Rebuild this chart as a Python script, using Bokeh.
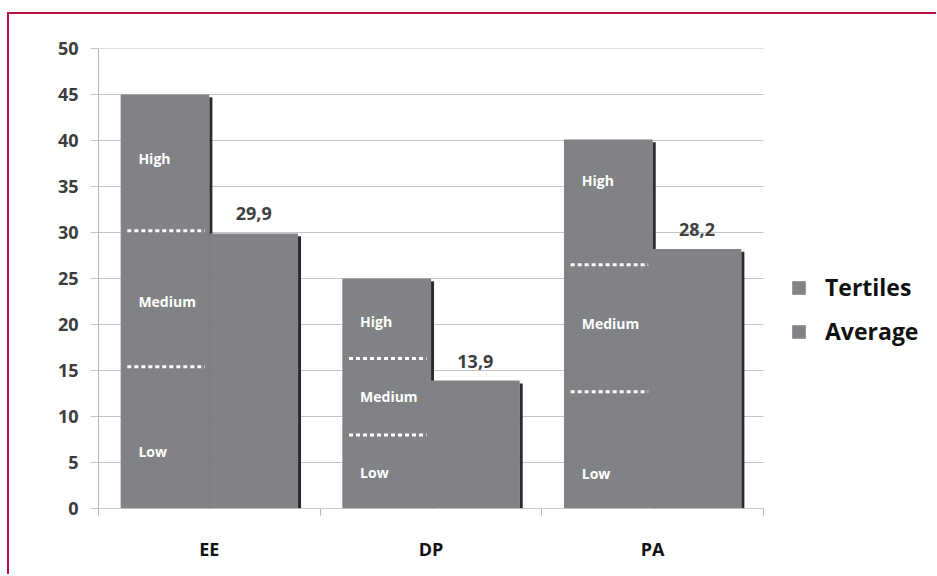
from bokeh.plotting import figure
from bokeh.models import FixedTicker, Range1d, Legend, LegendItem
from bokeh.core.properties import value
from bokeh.embed import file_html
from bokeh.resources import INLINE

# ---- data ----
categories = ["EE", "DP", "PA"]
tertile_max = [45.0, 25.0, 40.1]
average = [29.9, 13.9, 28.2]
cut_low = [15.4, 8.0, 12.7]
cut_high = [30.2, 16.3, 26.5]
tertile_names = ["Low", "Medium", "High"]
label_low_y = [6.2, 3.9, 3.8]
label_med_y = [22.5, 12.2, 20.1]
label_high_y = [38.0, 20.3, 35.7]
y_ticks = [0, 5, 10, 15, 20, 25, 30, 35, 40, 45, 50]

FONT = value("Open Sans")
BAR = "#818285"
SHADOW = "#2b2b2b"
GRID = "#c4c4c4"
AXIS = "#b5b5b5"
FRAME_RED = "#b8123e"

n = len(categories)
idx = list(range(n))
bw = 0.4
tx = [i + 0.3 for i in idx]
ax = [i + 0.7 for i in idx]

# layout (pixels)
plot_px = 665      # width of the category area
frame_px = 838     # frame extends right to host the legend
x_end = n * frame_px / plot_px

p = figure(frame_width=frame_px, frame_height=460, output_backend="svg", toolbar_location=None,
           x_range=Range1d(0, x_end), y_range=Range1d(0, 50),
           min_border_left=89, min_border_right=0, min_border_top=34, min_border_bottom=66)
p.styles = {"border-top": f"2px solid {FRAME_RED}", "border-left": f"2px solid {FRAME_RED}",
            "margin-left": "7px", "margin-top": "12px"}
p.outline_line_color = None
p.background_fill_color = "white"
p.xgrid.grid_line_color = None
p.ygrid.grid_line_color = None

# horizontal grid lines over the category area only
p.segment(x0=[0] * len(y_ticks), x1=[n] * len(y_ticks), y0=y_ticks, y1=y_ticks,
          line_color=GRID, line_width=1)

# tertile bars
r_t = p.vbar(x=tx, top=tertile_max, width=bw, fill_color=BAR, line_color=None)
p.segment(x0=[x + bw / 2 + 0.007 for x in tx], x1=[x + bw / 2 + 0.007 for x in tx],
          y0=[t - 0.3 for t in tertile_max], y1=[0] * n, line_color=SHADOW, line_width=3)
# average bars
r_a = p.vbar(x=ax, top=average, width=bw, fill_color=BAR, line_color=None)
p.segment(x0=[x + bw / 2 + 0.007 for x in ax], x1=[x + bw / 2 + 0.007 for x in ax],
          y0=[t - 0.3 for t in average], y1=[0] * n, line_color=SHADOW, line_width=3)

# x axis base line (category area only)
p.segment(x0=[0], x1=[n], y0=[0], y1=[0], line_color=AXIS, line_width=1)

# dotted tertile cut lines
for cuts in (cut_low, cut_high):
    p.segment(x0=[x - bw / 2 + 0.03 for x in tx], x1=[x + bw / 2 - 0.02 for x in tx],
              y0=cuts, y1=cuts, line_color="white", line_width=3, line_dash="4 3")

# tertile labels
for name, ys in zip(tertile_names, (label_low_y, label_med_y, label_high_y)):
    p.text(x=[x - bw / 2 + 0.08 for x in tx], y=ys, text=[name] * n,
           text_color="white", text_font=FONT, text_font_style="bold",
           text_font_size="14px", text_align="left", text_baseline="middle")

# average value labels
p.text(x=ax, y=average, text=[f"{v:.1f}".replace(".", ",") for v in average],
       y_offset=-13, text_color="#3f3f3f", text_font=FONT, text_font_style="bold",
       text_font_size="18px", text_align="center", text_baseline="bottom")

# axes
yax = p.yaxis[0]
yax.ticker = FixedTicker(ticks=y_ticks)
yax.axis_line_color = AXIS
yax.major_tick_out = 8
yax.major_tick_in = 0
yax.major_tick_line_color = GRID
yax.minor_tick_out = 0
yax.minor_tick_in = 0
yax.major_label_standoff = 12
yax.major_label_text_font = "Open Sans"
yax.major_label_text_font_style = "bold"
yax.major_label_text_font_size = "18px"
yax.major_label_text_color = "#3d3d3d"

xax = p.xaxis[0]
xax.ticker = FixedTicker(ticks=[i + 0.5 for i in idx], minor_ticks=list(range(n + 1)))
xax.major_label_overrides = {i + 0.5: c for i, c in zip(idx, categories)}
xax.axis_line_color = None
xax.major_tick_out = 0
xax.major_tick_in = 0
xax.minor_tick_out = 7
xax.minor_tick_in = 0
xax.minor_tick_line_color = AXIS
xax.major_label_standoff = 21
xax.major_label_text_font = "Open Sans"
xax.major_label_text_font_style = "bold"
xax.major_label_text_font_size = "18px"
xax.major_label_text_color = "#111111"

legend = Legend(items=[LegendItem(label="Tertiles", renderers=[r_t]),
                       LegendItem(label="Average", renderers=[r_a])],
                location=(692, 161), orientation="vertical",
                border_line_color=None, background_fill_alpha=0,
                glyph_width=17, glyph_height=17, label_height=17, label_standoff=18,
                spacing=12, padding=0, margin=0,
                label_text_font="Open Sans", label_text_font_style="bold",
                label_text_font_size="23px", label_text_color="#111111")
p.add_layout(legend)

open("out.html", "w").write(file_html(p, INLINE))
